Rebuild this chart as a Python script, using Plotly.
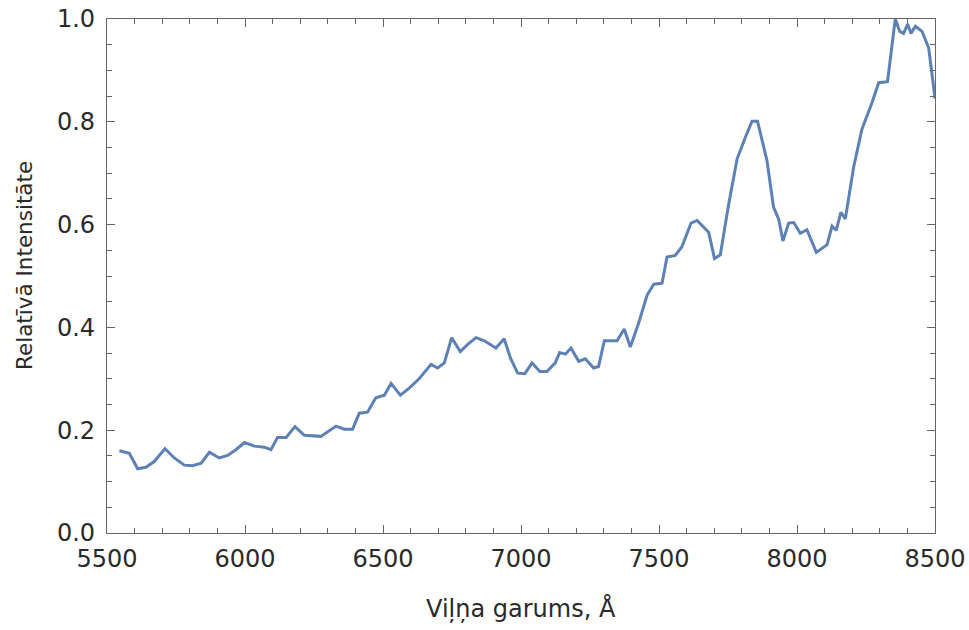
import plotly.graph_objects as go

# Spectrum samples: wavelength (Å) and relative intensity
wavelength = [5545, 5581, 5611, 5641, 5671, 5710, 5744, 5780, 5810, 5841, 5871, 5907,
              5937, 5967, 5998, 6034, 6070, 6094, 6118, 6149, 6181, 6215, 6275, 6330,
              6360, 6390, 6414, 6444, 6474, 6505, 6529, 6563, 6595, 6631, 6674, 6698,
              6722, 6749, 6780, 6807, 6837, 6867, 6909, 6939, 6962, 6988, 7014, 7040,
              7068, 7094, 7124, 7140, 7161, 7181, 7209, 7233, 7263, 7281, 7302, 7348,
              7374, 7396, 7426, 7457, 7481, 7511, 7529, 7559, 7583, 7616, 7638, 7680,
              7701, 7722, 7752, 7783, 7813, 7837, 7857, 7891, 7915, 7934, 7949, 7970,
              7988, 8012, 8036, 8070, 8109, 8127, 8142, 8159, 8175, 8205, 8235, 8271,
              8296, 8328, 8356, 8372, 8386, 8401, 8413, 8429, 8453, 8477, 8495, 8500]
intensity = [0.160, 0.155, 0.125, 0.128, 0.139, 0.164, 0.146, 0.132, 0.131, 0.136, 0.157, 0.146,
             0.151, 0.162, 0.176, 0.169, 0.167, 0.162, 0.186, 0.186, 0.207, 0.190, 0.188, 0.208,
             0.202, 0.202, 0.233, 0.235, 0.263, 0.268, 0.291, 0.268, 0.282, 0.300, 0.328, 0.321,
             0.331, 0.380, 0.353, 0.367, 0.380, 0.374, 0.360, 0.378, 0.340, 0.311, 0.310, 0.331,
             0.314, 0.314, 0.331, 0.351, 0.348, 0.360, 0.334, 0.339, 0.321, 0.324, 0.374, 0.374,
             0.397, 0.362, 0.408, 0.463, 0.484, 0.486, 0.537, 0.540, 0.557, 0.603, 0.608, 0.585,
             0.534, 0.541, 0.638, 0.728, 0.770, 0.801, 0.801, 0.725, 0.634, 0.610, 0.568, 0.603,
             0.604, 0.583, 0.590, 0.546, 0.561, 0.597, 0.589, 0.624, 0.611, 0.711, 0.785, 0.836,
             0.876, 0.878, 1.000, 0.976, 0.972, 0.990, 0.972, 0.986, 0.976, 0.944, 0.868, 0.845]

x_ticks = [5500, 6000, 6500, 7000, 7500, 8000, 8500]
y_ticks = [0.0, 0.2, 0.4, 0.6, 0.8, 1.0]
y_tick_text = ["0.0", "0.2", "0.4", "0.6", "0.8", "1.0"]

x_title = "Viļņa garums, Å"
y_title = "Relatīvā Intensitāte"

line_color = "#5E81B5"
frame_color = "#666666"
text_color = "#2a2a2a"
font_family = "DejaVu Sans, Verdana, sans-serif"

fig = go.Figure()
fig.add_trace(go.Scatter(
    x=wavelength, y=intensity, mode="lines",
    line=dict(color=line_color, width=3),
    showlegend=False, hoverinfo="skip",
))

# Framed axes with inside ticks on all four sides
axis_common = dict(
    showgrid=False, zeroline=False, automargin=False,
    showline=True, linecolor=frame_color, linewidth=1.3,
    mirror="allticks", ticks="inside", tickcolor=frame_color,
    ticklen=8, tickwidth=1.3,
    tickfont=dict(family=font_family, size=24, color=text_color),
)

fig.update_xaxes(
    range=[5500, 8500], tickvals=x_ticks,
    minor=dict(dtick=100, ticks="inside", ticklen=5, tickcolor=frame_color, tickwidth=1.1),
    ticklabelstandoff=4,
    **axis_common,
)
fig.update_yaxes(
    range=[0, 1.0], tickvals=y_ticks, ticktext=y_tick_text,
    minor=dict(dtick=0.05, ticks="inside", ticklen=5, tickcolor=frame_color, tickwidth=1.1),
    ticklabelstandoff=6,
    **axis_common,
)

# Axis titles placed relative to the plotting frame
fig.add_annotation(
    text=x_title, xref="paper", yref="paper", x=0.5, y=0,
    xanchor="center", yanchor="middle", yshift=-75, showarrow=False,
    font=dict(family=font_family, size=24, color=text_color),
)
fig.add_annotation(
    text=y_title, xref="paper", yref="paper", x=0, y=0.5,
    xanchor="center", yanchor="middle", xshift=-83, yshift=10, textangle=-90,
    showarrow=False,
    font=dict(family=font_family, size=21.5, color=text_color),
)

fig.update_layout(
    width=969, height=630,
    margin=dict(l=107, r=34, t=19, b=97),
    paper_bgcolor="white", plot_bgcolor="white",
)

fig.write_html("out.html")
